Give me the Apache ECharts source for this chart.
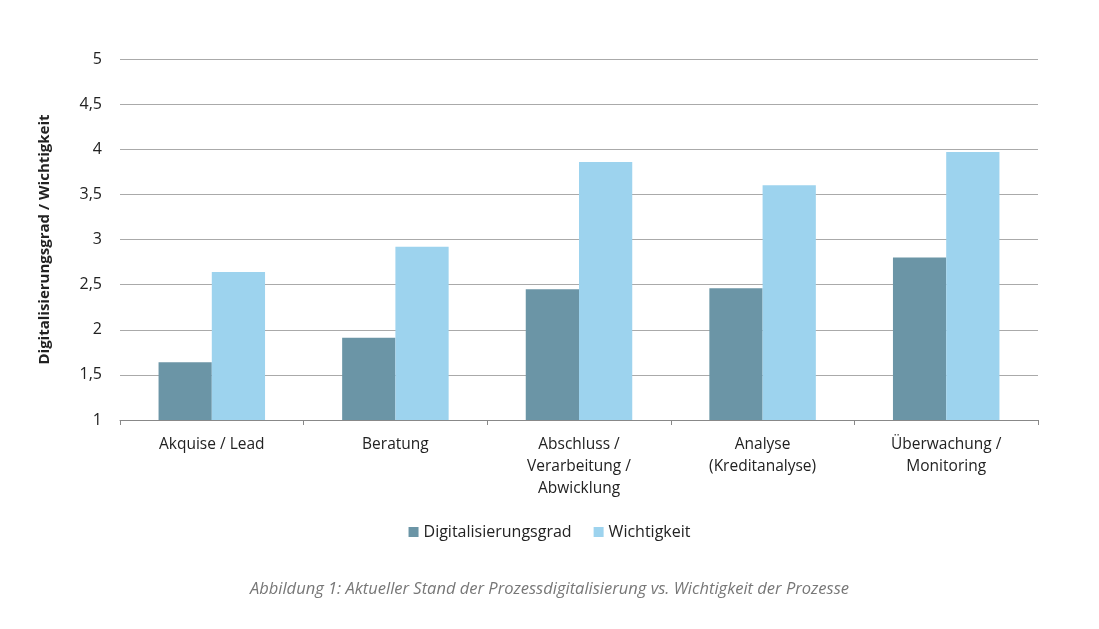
<!DOCTYPE html>
<html><head><meta charset="utf-8">
<script src="https://cdn.jsdelivr.net/npm/echarts@6/dist/echarts.min.js"></script>
<style>html,body{margin:0;background:#fff}#c{width:1099px;height:629px}</style>
</head><body><div id="c"></div>
<script>
var categories=['Akquise / Lead','Beratung','Abschluss /\nVerarbeitung /\nAbwicklung','Analyse\n(Kreditanalyse)','Überwachung /\nMonitoring'];
var digitalisierung=[1.64,1.91,2.45,2.46,2.80];
var wichtigkeit=[2.64,2.92,3.86,3.60,3.97];
var yTicks=['1','1,5','2','2,5','3','3,5','4','4,5','5'];
var ch=echarts.init(document.getElementById('c'));
var font='"Open Sans", sans-serif';
ch.setOption({
 textStyle:{fontFamily:font},
 grid:{left:120,right:61,top:59,bottom:209},
 title:{text:'Abbildung 1: Aktueller Stand der Prozessdigitalisierung vs. Wichtigkeit der Prozesse',left:'center',top:576,textStyle:{fontSize:16.5,fontStyle:'italic',fontWeight:'normal',color:'#777',fontFamily:font}},
 legend:{bottom:84,left:'center',itemWidth:10,itemHeight:10,itemGap:22,icon:'rect',textStyle:{fontSize:16,color:'#222',fontFamily:font},data:['Digitalisierungsgrad','Wichtigkeit']},
 xAxis:{type:'category',data:categories,axisTick:{show:true,interval:0,alignWithLabel:false,lineStyle:{color:'#888'}},axisLine:{lineStyle:{color:'#888'}},axisLabel:{interval:0,fontSize:15.5,color:'#222',lineHeight:22,margin:14}},
 yAxis:{type:'value',min:1,max:5,interval:0.5,name:'Digitalisierungsgrad / Wichtigkeit',nameLocation:'middle',nameGap:68,nameTextStyle:{fontSize:15,fontWeight:'bold',color:'#222'},
  axisLine:{show:false},axisTick:{show:false},splitLine:{lineStyle:{color:'#aaa'}},
  axisLabel:{fontSize:16,color:'#222',margin:18,formatter:function(v){return yTicks[Math.round((v-1)*2)];}}},
 series:[
  {name:'Digitalisierungsgrad',type:'bar',data:digitalisierung,itemStyle:{color:'#6b95a6'},barGap:'0%',barCategoryGap:'42%'},
  {name:'Wichtigkeit',type:'bar',data:wichtigkeit,itemStyle:{color:'#9dd3ee'},barGap:'0%',barCategoryGap:'42%'}
 ]
});
</script></body></html>
